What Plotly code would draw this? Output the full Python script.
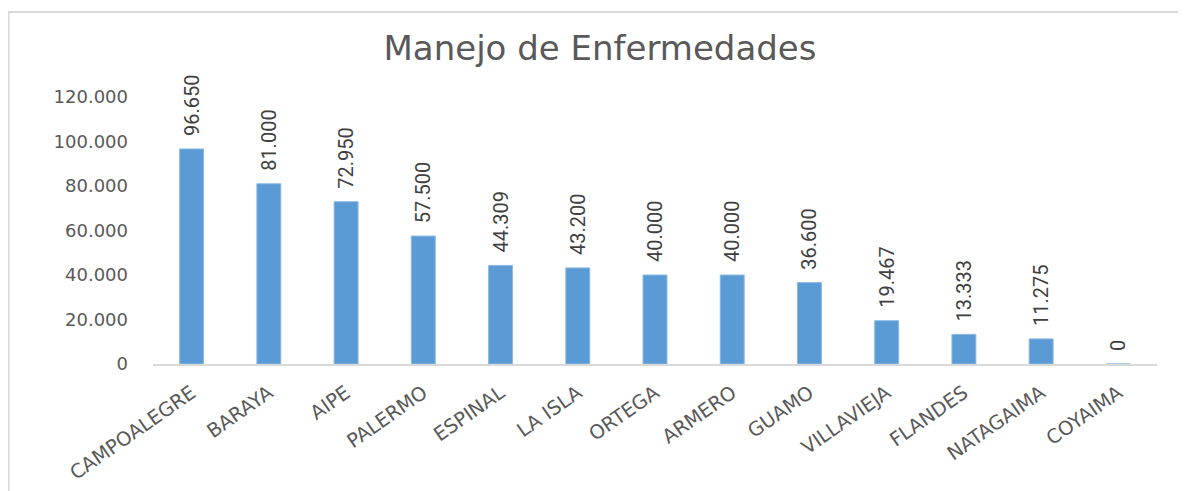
import plotly.graph_objects as go

categories = ["CAMPOALEGRE", "BARAYA", "AIPE", "PALERMO", "ESPINAL", "LA ISLA",
              "ORTEGA", "ARMERO", "GUAMO", "VILLAVIEJA", "FLANDES", "NATAGAIMA", "COYAIMA"]
values = [96650, 81000, 72950, 57500, 44309, 43200, 40000, 40000, 36600, 19467, 13333, 11275, 0]
y_ticks = [0, 20000, 40000, 60000, 80000, 100000, 120000]
title_text = "Manejo de Enfermedades"

# page body has an 8px margin; figure coordinates are offset by it
OFF = 8
W, H = 1186, 491
L, T = 153 - OFF, 97 - OFF
R = W - (1157 - OFF)
B = H - (364 - OFF)
pw, ph = W - L - R, H - T - B

def px_x(x):
    return (x - OFF - L) / pw

def px_y(y):
    return (H - B - (y - OFF)) / ph

fig = go.Figure(go.Bar(
    x=categories, y=values,
    marker=dict(color="#5B9BD5", line=dict(color="#8DB8E3", width=1)),
    texttemplate="\u00a0\u00a0%{y:,d}",
    textposition="outside",
    textangle=-90,
    constraintext="none",
    cliponaxis=False,
    textfont=dict(family="Roboto", size=20, color="#404040"),
    hoverinfo="skip",
))

fig.update_layout(
    width=W, height=H,
    margin=dict(l=L, r=R, t=T, b=B),
    paper_bgcolor="white", plot_bgcolor="white",
    separators=",.",
    bargap=0.69,
    showlegend=False,
    title=dict(text=title_text, x=(600 - OFF) / W, xref="container", xanchor="center",
               y=1 - (48 - OFF) / H, yref="container", yanchor="middle",
               font=dict(family="DejaVu Sans", size=34, color="#595959")),
    font=dict(family="DejaVu Sans", color="#595959"),
    shapes=[dict(type="rect", xref="paper", yref="paper",
                 x0=px_x(8.5), x1=px_x(1220), y0=px_y(12), y1=px_y(520),
                 line=dict(color="#D9D9D9", width=2), fillcolor="rgba(0,0,0,0)", layer="below")],
)

fig.update_yaxes(range=[0, 120000], tickvals=y_ticks, tickformat=",d",
                 showgrid=False, zeroline=False, showline=False,
                 ticklabelstandoff=24,
                 tickfont=dict(family="DejaVu Sans", size=18, color="#595959"))
fig.update_xaxes(showline=True, linecolor="#D9D9D9", linewidth=2, showgrid=False,
                 tickangle=-35, ticklabelstandoff=8,
                 tickfont=dict(family="DejaVu Sans", size=19.5, color="#595959"))

fig.write_html("out.html")
